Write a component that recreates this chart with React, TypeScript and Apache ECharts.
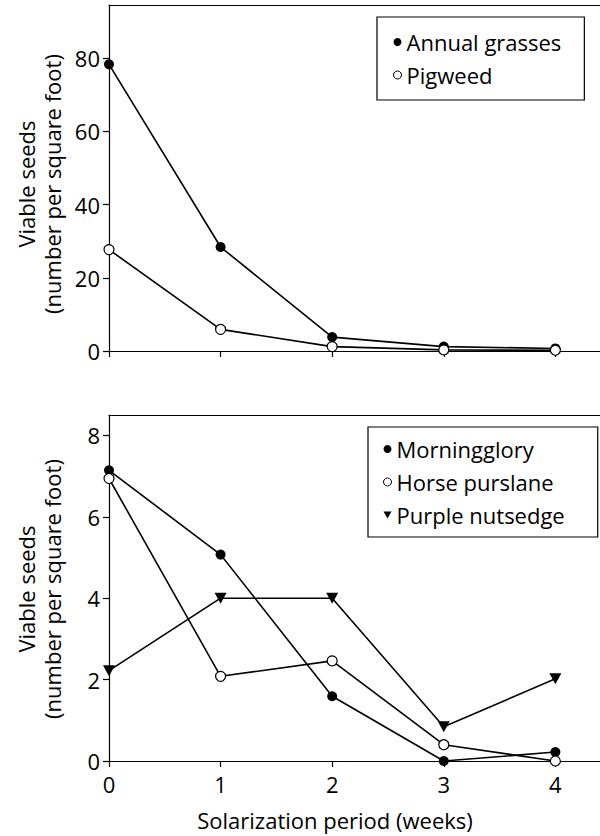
import React, { useEffect, useRef } from "react";
import * as echarts from "echarts";

const weeks = [0, 1, 2, 3, 4];
const xTicks = [0, 1, 2, 3, 4];

const annualGrasses = [78.3, 28.4, 3.8, 1.2, 0.7];
const pigweed = [27.7, 5.9, 1.2, 0.3, 0.2];
const topYTicks = [0, 20, 40, 60, 80];

const morningglory = [7.14, 5.07, 1.59, 0.0, 0.22];
const horsePurslane = [6.94, 2.08, 2.46, 0.4, 0.0];
const purpleNutsedge = [2.22, 4.0, 4.0, 0.84, 2.02];
const bottomYTicks = [0, 2, 4, 6, 8];

const FONT = "Open Sans";
const FS = 22;
const BLACK = "#000";
const DOWN_TRI = "path://M0,0L10,0L5,9Z";

const pairs = (ys: number[]) => weeks.map((x, i) => [x, ys[i]]);

export default function App() {
  const ref = useRef<HTMLDivElement>(null);
  useEffect(() => {
    if (!ref.current) return;
    const chart = echarts.init(ref.current, undefined, { renderer: "svg" });
    const axisLine = { show: true, lineStyle: { color: BLACK, width: 1.2 } };
    const tick = { show: true, length: 6, lineStyle: { color: BLACK, width: 1.2 } };
    const labelStyle = { color: BLACK, fontSize: FS, fontFamily: FONT };

    const filled = (name: string, data: number[], xi: number, yi: number) => ({
      name,
      type: "line",
      xAxisIndex: xi,
      yAxisIndex: yi,
      data: pairs(data),
      symbol: "circle",
      symbolSize: 10,
      showAllSymbol: true,
      lineStyle: { color: BLACK, width: 1.6 },
      itemStyle: { color: BLACK, borderColor: BLACK, borderWidth: 0 },
    });
    const open = (name: string, data: number[], xi: number, yi: number) => ({
      name,
      type: "line",
      xAxisIndex: xi,
      yAxisIndex: yi,
      data: pairs(data),
      symbol: "circle",
      symbolSize: 10,
      showAllSymbol: true,
      lineStyle: { color: BLACK, width: 1.6 },
      itemStyle: { color: "#fff", borderColor: BLACK, borderWidth: 1.2 },
    });
    const tri = (name: string, data: number[], xi: number, yi: number) => ({
      name,
      type: "line",
      xAxisIndex: xi,
      yAxisIndex: yi,
      data: pairs(data),
      symbol: DOWN_TRI,
      symbolSize: [12, 11],
      showAllSymbol: true,
      lineStyle: { color: BLACK, width: 1.6 },
      itemStyle: { color: BLACK, borderColor: BLACK, borderWidth: 0 },
    });

    const xMain = (gi: number, showLabels: boolean) => ({
      type: "value",
      gridIndex: gi,
      min: 0,
      max: 4.4,
      position: "bottom",
      axisLine,
      axisTick: { ...tick, customValues: xTicks },
      axisLabel: showLabels
        ? { ...labelStyle, margin: 12, customValues: xTicks }
        : { show: false },
      splitLine: { show: false },
    });
    const xTop = (gi: number) => ({
      type: "value",
      gridIndex: gi,
      min: 0,
      max: 4.4,
      position: "top",
      axisLine,
      axisTick: { show: false },
      axisLabel: { show: false },
      splitLine: { show: false },
    });
    const yAx = (gi: number, max: number, ticks: number[]) => ({
      type: "value",
      gridIndex: gi,
      min: 0,
      max,
      axisLine,
      axisTick: { ...tick, customValues: ticks },
      axisLabel: { ...labelStyle, margin: 9, customValues: ticks },
      splitLine: { show: false },
    });

    const legendBase = {
      orient: "vertical",
      backgroundColor: "#fff",
      borderColor: BLACK,
      borderWidth: 1.2,
      borderRadius: 0,
      itemWidth: 8,
      itemHeight: 8,
      itemGap: 11,
      itemTextGap: 10,
      textStyle: { color: BLACK, fontSize: FS, fontFamily: FONT },
      selectedMode: false,
    };

    const yTitle = (x: number, y: number) => ({
      type: "text",
      x,
      y,
      rotation: Math.PI / 2,
      style: {
        text: "Viable seeds\n(number per square foot)",
        fontSize: FS,
        fontFamily: FONT,
        fill: BLACK,
        align: "center",
        verticalAlign: "middle",
        lineHeight: 26,
      },
    });

    chart.setOption({
      animation: false,
      grid: [
        { left: 109, top: 5, width: 491, height: 346 },
        { left: 109, top: 415, width: 491, height: 346 },
      ],
      xAxis: [xMain(0, false), xTop(0), xMain(1, true), xTop(1)],
      yAxis: [yAx(0, 94.5, topYTicks), yAx(1, 8.5, bottomYTicks)],
      legend: [
        {
          ...legendBase,
          left: 377,
          top: 17,
          padding: [14, 23, 14, 16],
          data: [
            { name: "Annual grasses", icon: "circle", itemStyle: { color: BLACK, borderWidth: 0 } },
            { name: "Pigweed", icon: "circle", itemStyle: { color: "#fff", borderColor: BLACK, borderWidth: 1 } },
          ],
        },
        {
          ...legendBase,
          left: 368,
          top: 427,
          padding: [11, 33, 11, 15],
          data: [
            { name: "Morningglory", icon: "circle", itemStyle: { color: BLACK, borderWidth: 0 } },
            { name: "Horse purslane", icon: "circle", itemStyle: { color: "#fff", borderColor: BLACK, borderWidth: 1 } },
            { name: "Purple nutsedge", icon: DOWN_TRI, itemStyle: { color: BLACK, borderWidth: 0 } },
          ],
        },
      ],
      graphic: [
        yTitle(39, 184),
        yTitle(39, 589),
        {
          type: "text",
          x: 335,
          y: 820,
          style: {
            text: "Solarization period (weeks)",
            fontSize: FS,
            fontFamily: FONT,
            fill: BLACK,
            align: "center",
            verticalAlign: "middle",
          },
        },
      ],
      series: [
        filled("Annual grasses", annualGrasses, 0, 0),
        open("Pigweed", pigweed, 0, 0),
        filled("Morningglory", morningglory, 2, 1),
        open("Horse purslane", horsePurslane, 2, 1),
        tri("Purple nutsedge", purpleNutsedge, 2, 1),
      ],
    });
    return () => chart.dispose();
  }, []);
  return (
    <div
      ref={ref}
      style={{ position: "absolute", left: 0, top: 0, width: 600, height: 836, background: "#fff" }}
    />
  );
}
